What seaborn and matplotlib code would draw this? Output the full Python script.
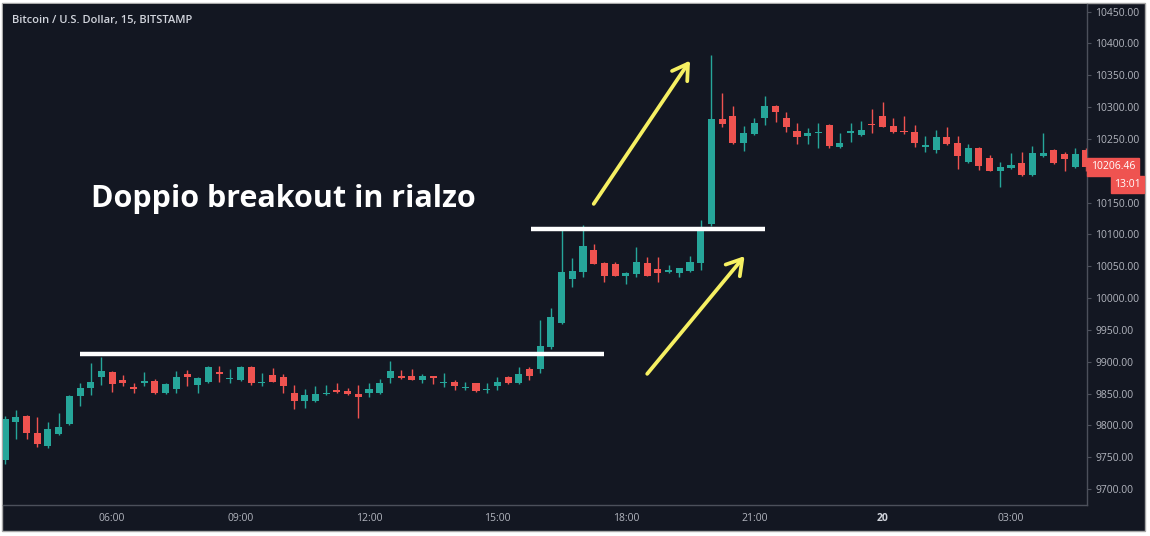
import matplotlib
matplotlib.use("Agg")
import matplotlib.pyplot as plt
import numpy as np
import pandas as pd
import seaborn as sns
from matplotlib.patches import Rectangle

# 15-minute BTC/USD candles (first one at 03:30)
opens = [9745, 9805, 9815, 9788, 9767, 9787, 9802, 9846, 9859, 9876,
         9884, 9871, 9860, 9867, 9870, 9851, 9857, 9880, 9863, 9868,
         9884, 9873, 9871, 9892, 9867, 9879, 9876, 9851, 9838, 9838,
         9849, 9856, 9854, 9849, 9851, 9851, 9875, 9877, 9877, 9871,
         9877, 9867, 9868, 9859, 9866, 9855, 9862, 9876, 9866, 9889,
         9889, 9923, 9961, 10030, 10041, 10076, 10055, 10054, 10034, 10038,
         10055, 10045, 10041, 10039, 10042, 10055, 10116, 10281, 10286, 10244,
         10258, 10283, 10302, 10283, 10263, 10255, 10259, 10272, 10237, 10260,
         10256, 10274, 10286, 10271, 10263, 10261, 10237, 10233, 10253, 10244,
         10214, 10236, 10220, 10199, 10204, 10212, 10193, 10224, 10233, 10226,
         10206, 10233]
highs = [9815, 9824, 9816, 9813, 9806, 9819, 9848, 9867, 9898, 9907,
         9885, 9879, 9867, 9884, 9873, 9866, 9886, 9887, 9876, 9893,
         9893, 9888, 9894, 9893, 9882, 9890, 9881, 9863, 9857, 9862,
         9863, 9867, 9859, 9863, 9867, 9873, 9901, 9887, 9889, 9881,
         9878, 9882, 9871, 9869, 9867, 9866, 9876, 9877, 9891, 9891,
         9965, 9985, 10110, 10063, 10115, 10085, 10056, 10057, 10041, 10080,
         10064, 10064, 10052, 10048, 10066, 10123, 10382, 10322, 10302, 10270,
         10283, 10318, 10303, 10292, 10275, 10267, 10275, 10273, 10259, 10275,
         10278, 10297, 10308, 10283, 10286, 10272, 10254, 10264, 10269, 10254,
         10242, 10237, 10225, 10214, 10228, 10230, 10239, 10259, 10234, 10229,
         10236, 10236]
lows = [9740, 9778, 9778, 9766, 9765, 9785, 9800, 9831, 9848, 9863,
        9852, 9862, 9851, 9862, 9850, 9850, 9851, 9862, 9851, 9867,
        9868, 9867, 9870, 9863, 9862, 9868, 9851, 9826, 9827, 9837,
        9848, 9851, 9848, 9812, 9845, 9850, 9866, 9873, 9871, 9867,
        9865, 9860, 9856, 9856, 9853, 9851, 9856, 9865, 9865, 9871,
        9882, 9920, 9960, 10017, 10033, 10053, 10025, 10034, 10022, 10033,
        10034, 10025, 10040, 10033, 10041, 10044, 10114, 10269, 10242, 10231,
        10257, 10272, 10276, 10261, 10242, 10242, 10236, 10236, 10236, 10245,
        10255, 10260, 10268, 10259, 10258, 10237, 10229, 10228, 10241, 10203,
        10213, 10201, 10199, 10175, 10203, 10192, 10192, 10221, 10211, 10200,
        10205, 10200]
closes = [9810, 9813, 9788, 9771, 9794, 9797, 9847, 9859, 9868, 9885,
          9865, 9867, 9857, 9870, 9851, 9865, 9876, 9876, 9874, 9892,
          9880, 9875, 9892, 9867, 9869, 9869, 9862, 9838, 9848, 9849,
          9851, 9853, 9849, 9845, 9858, 9867, 9885, 9874, 9872, 9878,
          9874, 9869, 9862, 9861, 9854, 9857, 9868, 9866, 9880, 9877,
          9924, 9970, 10041, 10043, 10082, 10054, 10035, 10035, 10040, 10057,
          10035, 10039, 10044, 10047, 10056, 10110, 10281, 10273, 10243, 10259,
          10275, 10302, 10292, 10269, 10253, 10260, 10261, 10239, 10244, 10262,
          10264, 10272, 10269, 10261, 10261, 10244, 10240, 10253, 10242, 10223,
          10236, 10208, 10200, 10206, 10209, 10193, 10228, 10228, 10212, 10218,
          10226, 10206.46]

tick_times = ["06:00", "09:00", "12:00", "15:00", "18:00", "21:00", "00:00", "03:00"]
tick_labels = ["06:00", "09:00", "12:00", "15:00", "18:00", "21:00", "20", "03:00"]
price_ticks = [9700, 9750, 9800, 9850, 9900, 9950, 10000, 10050,
               10100, 10150, 10200, 10250, 10300, 10350, 10400, 10450]

# hand-drawn levels and arrows (time index, price)
level_low = (7.0, 56.0, 9912)
level_high = (49.1, 71.0, 10108)
arrow_a = ((55.0, 10148), (64.0, 10373))
arrow_b = ((60.0, 9881), (69.1, 10066))

title = "Bitcoin / U.S. Dollar, 15, BITSTAMP"
note = "Doppio breakout in rialzo"
countdown = "13:01"

BG = "#131722"
UP = "#26a69a"
DOWN = "#ef5350"
AXIS = "#4c505b"
LABEL = "#b2b5be"
YELLOW = "#f6f062"

W, H = 1150, 536

sns.set_theme(style="dark", rc={
    "axes.facecolor": BG,
    "figure.facecolor": "white",
    "axes.edgecolor": AXIS,
    "xtick.color": AXIS,
    "ytick.color": AXIS,
})
plt.rcParams["font.family"] = ["Open Sans", "DejaVu Sans"]

df = pd.DataFrame({"open": opens, "high": highs, "low": lows, "close": closes})
df["time"] = pd.date_range("2019-09-19 03:30", periods=len(df), freq="15min")
df["pos"] = np.arange(len(df))
df["color"] = np.where(df["close"] >= df["open"], UP, DOWN)

fig = plt.figure(figsize=(W / 100, H / 100), dpi=100)
# dark chart panel with a thin light frame, as in the screenshot
fig.patches.append(Rectangle((2 / W, 5 / H), 1143 / W, 528 / H, transform=fig.transFigure,
                             facecolor=BG, edgecolor="#a8a8a8", linewidth=1, zorder=-1))
ax = fig.add_axes([3 / W, 31 / H, 1084 / W, 501 / H])

body = (df["close"] - df["open"]).abs().clip(lower=1.2)
bottom = df[["open", "close"]].min(axis=1)
ax.vlines(df["pos"], df["low"], df["high"], colors=df["color"], linewidth=1.0, zorder=2)
ax.bar(df["pos"], body, bottom=bottom, width=0.66, color=df["color"], linewidth=0, zorder=3)

ax.set_xlim(-0.2, 101.1)
ax.set_ylim(9675, 10462)

for x0, x1, y in (level_low, level_high):
    ax.plot([x0, x1], [y, y], color="white", linewidth=3.2, solid_capstyle="butt", zorder=4)

for start, end in (arrow_a, arrow_b):
    ax.annotate("", xy=end, xytext=start,
                arrowprops=dict(arrowstyle="->,head_length=0.9,head_width=0.55",
                                color=YELLOW, linewidth=2.7, shrinkA=0, shrinkB=0),
                zorder=5)

ax.text(8.0, 10143, note, color="white", fontsize=22, fontweight="bold",
        va="baseline", ha="left", zorder=6)

# axes: price scale on the right, time scale at the bottom
for side in ("top", "left"):
    ax.spines[side].set_visible(False)
for side in ("right", "bottom"):
    ax.spines[side].set_color(AXIS)
    ax.spines[side].set_linewidth(1)
ax.yaxis.tick_right()
ax.set_yticks(price_ticks)
ax.set_yticklabels([f"{p:.2f}" for p in price_ticks])
ax.tick_params(axis="y", length=3, width=0.8, pad=3, labelsize=7.5, labelcolor=LABEL)

tick_pos = [int(df.index[df["time"].dt.strftime("%H:%M") == t][0]) for t in tick_times]
ax.set_xticks(tick_pos)
ax.set_xticklabels(tick_labels)
ax.tick_params(axis="x", length=3, width=0.8, pad=3, labelsize=7.5, labelcolor=LABEL)
for lbl in ax.get_xticklabels():
    if lbl.get_text() == "20":
        lbl.set_fontweight("bold")
        lbl.set_color("#d1d4dc")
ax.grid(False)

# last price tag and countdown on the price scale (the tag hides the 10200 label)
last = closes[-1]
ytf = ax.get_yaxis_transform()
ax.text(1.0 + 4 / 1084, last, f"{last:.2f}", transform=ytf, color="white", fontsize=7.5,
        va="center", ha="left", clip_on=False, zorder=7,
        bbox=dict(boxstyle="square,pad=0.35", facecolor=DOWN, edgecolor=DOWN))
ax.annotate(countdown, xy=(1.0, last), xycoords=ytf, xytext=(54, -18), textcoords="offset pixels",
            color="white", fontsize=7.5, va="center", ha="right", annotation_clip=False, zorder=7,
            bbox=dict(boxstyle="square,pad=0.3", facecolor=DOWN, edgecolor=DOWN))
for lbl in ax.get_yticklabels():
    if lbl.get_text() == "10200.00":
        lbl.set_visible(False)

fig.text(12 / W, 1 - 20 / H, title, color="#d1d4dc", fontsize=8, fontweight="semibold",
         va="center", ha="left")

fig.savefig("out.png", dpi=100, facecolor="white")
